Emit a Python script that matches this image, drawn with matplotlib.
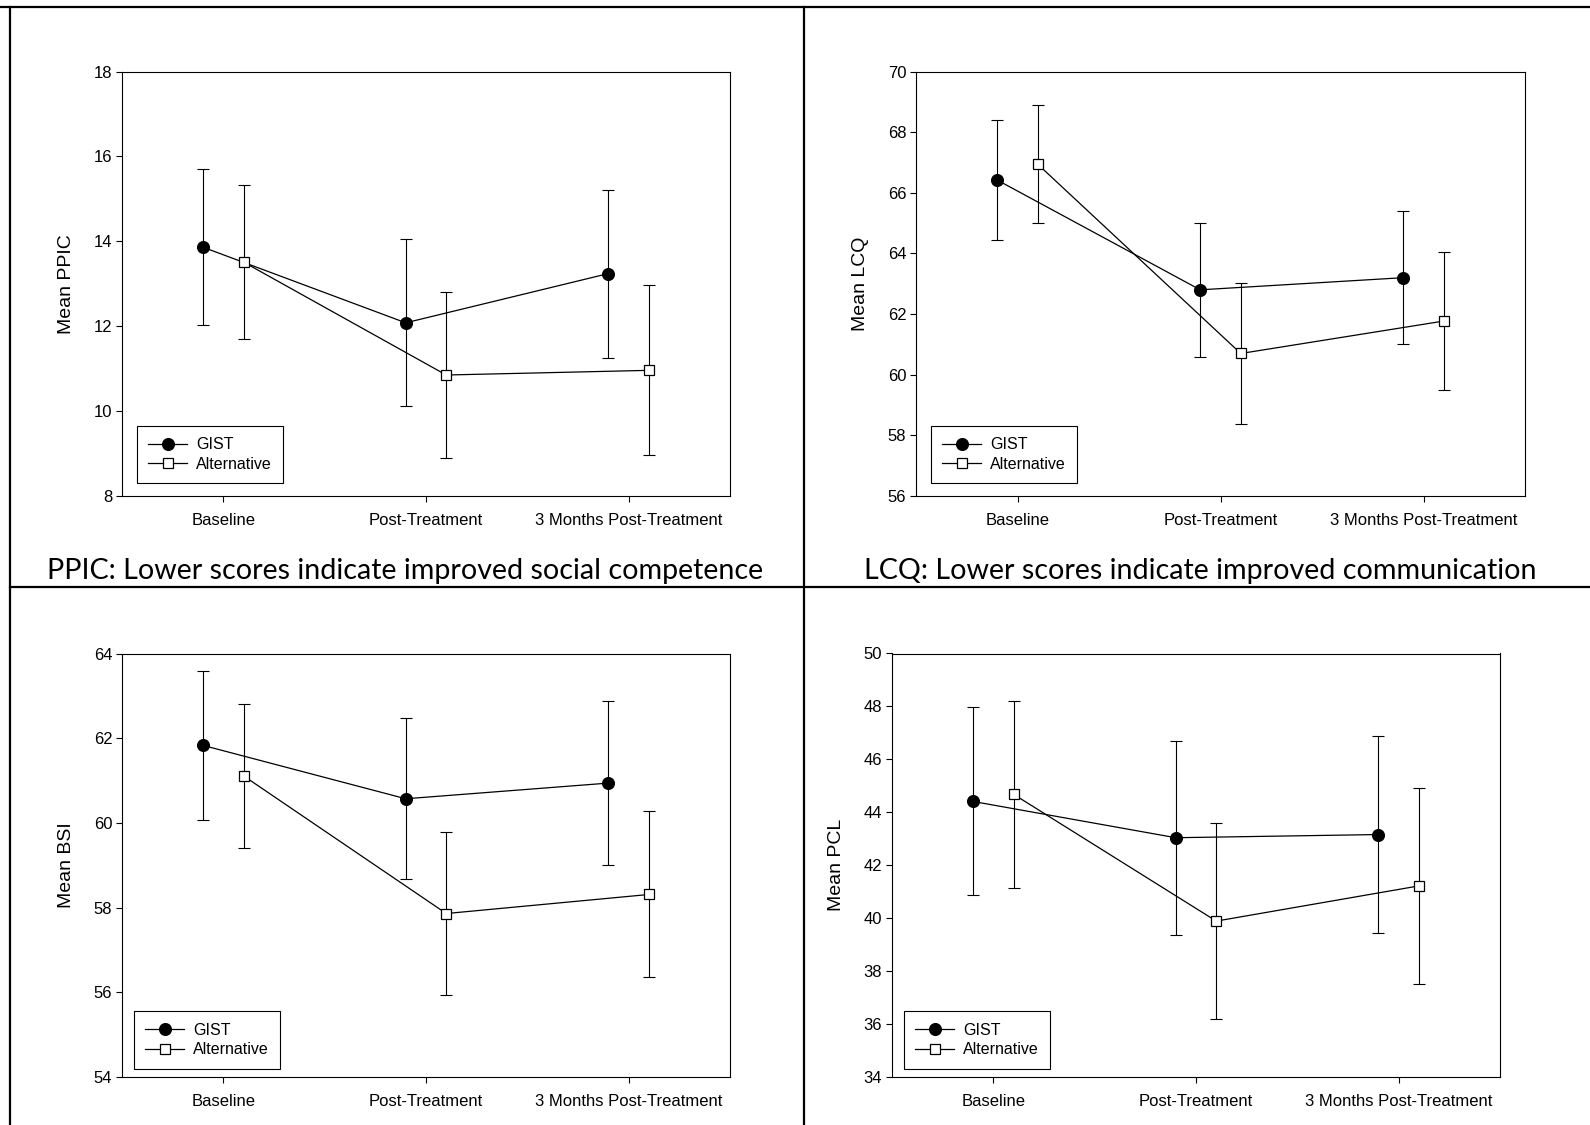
import matplotlib
matplotlib.use('Agg')
import matplotlib.pyplot as plt
import numpy as np
from matplotlib.lines import Line2D

# time points on the x axis
timepoints = ['Baseline', 'Post-Treatment', '3 Months Post-Treatment']
groups = ['GIST', 'Alternative']

# PPIC
ppic_gist = [13.86, 12.08, 13.24]
ppic_gist_err = [1.84, 1.97, 1.98]
ppic_alt = [13.51, 10.85, 10.96]
ppic_alt_err = [1.81, 1.95, 2.00]

# LCQ
lcq_gist = [66.42, 62.80, 63.20]
lcq_gist_err = [1.98, 2.20, 2.19]
lcq_alt = [66.94, 60.70, 61.77]
lcq_alt_err = [1.94, 2.33, 2.29]

# BSI
bsi_gist = [61.83, 60.57, 60.94]
bsi_gist_err = [1.75, 1.90, 1.93]
bsi_alt = [61.11, 57.86, 58.31]
bsi_alt_err = [1.70, 1.93, 1.96]

# PCL
pcl_gist = [44.41, 43.04, 43.16]
pcl_gist_err = [3.55, 3.66, 3.73]
pcl_alt = [44.68, 39.89, 41.22]
pcl_alt_err = [3.54, 3.70, 3.69]

W, H = 1590, 1125
TICK_FONT = 12


def px_axes(fig, left, top, right, bottom):
    """Add axes from pixel edges (origin top-left)."""
    return fig.add_axes([left / W, 1 - bottom / H, (right - left) / W, (bottom - top) / H])


def draw_panel(ax, gist, gist_err, alt, alt_err, ylim, yticks, ylabel, legend_pos):
    x = np.arange(len(timepoints))
    off = 0.1
    series = [(x - off, gist, gist_err, 'o', 'black', 8.5, groups[0]),
              (x + off, alt, alt_err, 's', 'white', 7, groups[1])]
    for xs, m, e, mk, fc, ms, lab in series:
        ax.errorbar(xs, m, yerr=e, fmt='none', ecolor='black', elinewidth=0.8,
                    capsize=4.5, capthick=0.8, zorder=2)
        ax.plot(xs, m, color='black', linewidth=0.9, marker=mk, markersize=ms,
                markerfacecolor=fc, markeredgecolor='black', markeredgewidth=0.9,
                label=lab, zorder=3)

    ax.set_xlim(-0.5, 2.5)
    ax.set_ylim(*ylim)
    ax.set_xticks(x)
    ax.set_xticklabels(timepoints, fontsize=TICK_FONT)
    ax.set_yticks(yticks)
    ax.set_yticklabels([str(t) for t in yticks], fontsize=TICK_FONT)
    ax.tick_params(axis='x', direction='out', length=4, width=0.8, pad=8.5)
    ax.tick_params(axis='y', direction='out', length=4, width=0.8, pad=3)
    for s in ax.spines.values():
        s.set_linewidth(0.8)
    ax.set_ylabel(ylabel, fontsize=14)
    ax.yaxis.set_label_coords(-0.077, 0.5)

    leg = ax.legend(loc='lower left', bbox_to_anchor=legend_pos, borderaxespad=0,
                    fontsize=11.5, fancybox=False, framealpha=1, edgecolor='black',
                    handlelength=2.4, handletextpad=0.6, labelspacing=0.3,
                    borderpad=0.7, numpoints=1)
    leg.get_frame().set_linewidth(0.8)


plt.rcParams['font.family'] = ['Liberation Sans', 'DejaVu Sans']

fig = plt.figure(figsize=(W / 100, H / 100), dpi=100)

ax1 = px_axes(fig, 122, 71.5, 730, 496)
draw_panel(ax1, ppic_gist, ppic_gist_err, ppic_alt, ppic_alt_err,
           (8, 18), [8, 10, 12, 14, 16, 18], 'Mean PPIC', (0.025, 0.03))

ax2 = px_axes(fig, 916, 71.5, 1525, 496)
draw_panel(ax2, lcq_gist, lcq_gist_err, lcq_alt, lcq_alt_err,
           (56, 70), [56, 58, 60, 62, 64, 66, 68, 70], 'Mean LCQ', (0.025, 0.03))

ax3 = px_axes(fig, 122, 653.5, 730, 1077)
draw_panel(ax3, bsi_gist, bsi_gist_err, bsi_alt, bsi_alt_err,
           (54, 64), [54, 56, 58, 60, 62, 64], 'Mean BSI', (0.02, 0.02))

ax4 = px_axes(fig, 892, 653.5, 1500, 1077)
draw_panel(ax4, pcl_gist, pcl_gist_err, pcl_alt, pcl_alt_err,
           (34, 50), [34, 36, 38, 40, 42, 44, 46, 48, 50], 'Mean PCL', (0.02, 0.02))

# captions under the top row
cap_y = 1 - 579.5 / H
fig.text(405.5 / W, cap_y, 'PPIC: Lower scores indicate improved social competence',
         ha='center', va='baseline', fontsize=20.6, family='Lato')
fig.text(1200.5 / W, cap_y, 'LCQ: Lower scores indicate improved communication',
         ha='center', va='baseline', fontsize=20.6, family='Lato')

# table borders
def border(x0, y0, x1, y1, lw=1.6):
    fig.add_artist(Line2D([x0 / W, x1 / W], [1 - y0 / H, 1 - y1 / H],
                          transform=fig.transFigure, color='black', linewidth=lw))

border(0, 7, W, 7)
border(9.5, 7, 9.5, H)
border(804, 7, 804, H)
border(9.5, 587, W, 587)

fig.savefig('out.png', dpi=100, facecolor='white')
